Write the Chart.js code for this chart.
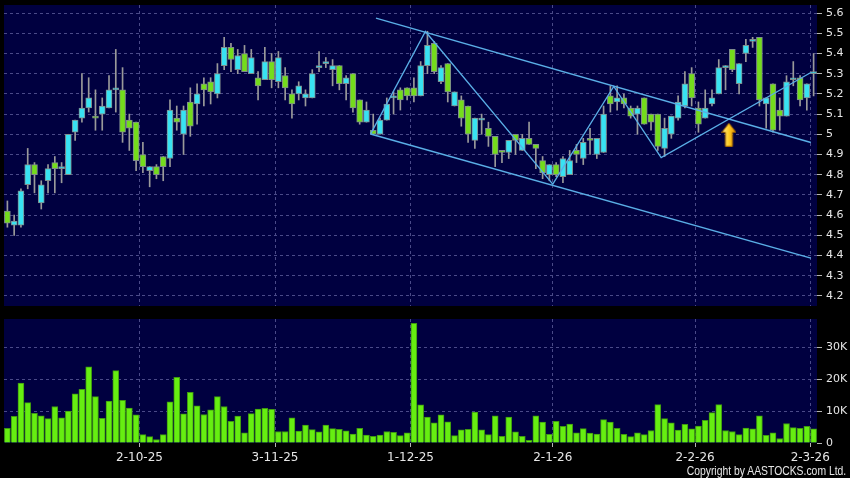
<!DOCTYPE html>
<html>
<head>
<meta charset="utf-8">
<script src="https://cdn.jsdelivr.net/npm/chart.js@4.4.1/dist/chart.umd.min.js"></script>
<style>
  html, body { margin: 0; padding: 0; background: #000; }
  body { width: 850px; height: 478px; position: relative; overflow: hidden; }
  #priceChart { position: absolute; left: 0; top: 0; }
  #volumeChart { position: absolute; left: 0; top: 312px; }
  #copyright {
    position: absolute; right: 4px; top: 464px; color: #e6e6e6;
    font: 12.5px "Liberation Sans", sans-serif; line-height: 14px;
    transform: scaleX(0.83); transform-origin: right center; white-space: nowrap;
  }
</style>
</head>
<body>
<canvas id="priceChart" width="850" height="312"></canvas>
<canvas id="volumeChart" width="850" height="166"></canvas>
<div id="copyright">Copyright by AASTOCKS.com Ltd.</div>
<script>
// daily candles, one per trading day (index 0 = first day shown)
const opens = [4.62, 4.55, 4.55, 4.75, 4.85, 4.66, 4.77, 4.86, 4.83, 4.80,
  5.01, 5.08, 5.13, 5.09, 5.10, 5.13, 5.22, 5.22, 5.07, 5.06,
  4.90, 4.82, 4.84, 4.89, 4.88, 5.08, 5.00, 5.16, 5.15, 5.25,
  5.26, 5.20, 5.34, 5.43, 5.32, 5.40, 5.30, 5.28, 5.27, 5.36,
  5.26, 5.29, 5.20, 5.20, 5.18, 5.18, 5.33, 5.35, 5.32, 5.34,
  5.25, 5.30, 5.17, 5.06, 5.02, 5.00, 5.07, 5.18, 5.22, 5.23,
  5.23, 5.19, 5.34, 5.45, 5.26, 5.35, 5.14, 5.17, 5.14, 4.97,
  5.07, 5.03, 4.99, 4.92, 4.91, 5.00, 4.92, 4.98, 4.95, 4.87,
  4.80, 4.85, 4.79, 4.80, 4.92, 4.88, 4.98, 4.90, 4.91, 5.19,
  5.16, 5.18, 5.13, 5.10, 5.18, 5.10, 5.10, 4.93, 5.00, 5.08,
  5.14, 5.30, 5.13, 5.08, 5.15, 5.20, 5.33, 5.42, 5.25, 5.40,
  5.46, 5.48, 5.15, 5.25, 5.12, 5.09, 5.27, 5.28, 5.18, 5.30];
const highs = [4.67, 4.60, 4.73, 4.93, 4.86, 4.77, 4.85, 4.89, 4.86, 5.00,
  5.07, 5.30, 5.28, 5.22, 5.18, 5.29, 5.42, 5.33, 5.10, 5.06,
  4.96, 4.84, 4.85, 4.89, 5.17, 5.14, 5.14, 5.23, 5.25, 5.28,
  5.28, 5.35, 5.48, 5.45, 5.42, 5.44, 5.42, 5.31, 5.43, 5.40,
  5.41, 5.33, 5.22, 5.26, 5.22, 5.32, 5.41, 5.38, 5.37, 5.34,
  5.29, 5.30, 5.17, 5.16, 5.10, 5.08, 5.18, 5.21, 5.23, 5.23,
  5.28, 5.36, 5.51, 5.46, 5.34, 5.35, 5.21, 5.19, 5.14, 5.08,
  5.10, 5.06, 4.99, 4.92, 4.97, 5.00, 5.00, 5.06, 4.95, 4.89,
  4.85, 4.86, 4.89, 4.92, 4.95, 4.98, 5.03, 4.98, 5.14, 5.24,
  5.24, 5.20, 5.14, 5.14, 5.18, 5.10, 5.10, 5.08, 5.09, 5.19,
  5.31, 5.33, 5.16, 5.22, 5.22, 5.37, 5.34, 5.42, 5.35, 5.47,
  5.48, 5.48, 5.18, 5.25, 5.18, 5.29, 5.36, 5.29, 5.25, 5.40];
const lows = [4.54, 4.50, 4.54, 4.73, 4.71, 4.63, 4.71, 4.71, 4.76, 4.80,
  4.97, 5.06, 5.11, 5.02, 5.02, 5.13, 5.11, 4.96, 4.92, 4.82,
  4.81, 4.74, 4.78, 4.77, 4.84, 5.02, 4.90, 4.99, 5.05, 5.14,
  5.15, 5.18, 5.32, 5.31, 5.30, 5.31, 5.30, 5.17, 5.27, 5.23,
  5.23, 5.17, 5.08, 5.17, 5.14, 5.18, 5.31, 5.33, 5.24, 5.22,
  5.17, 5.11, 5.05, 5.06, 5.00, 5.00, 5.07, 5.10, 5.12, 5.17,
  5.16, 5.19, 5.30, 5.30, 5.25, 5.16, 5.14, 5.04, 4.96, 4.93,
  5.00, 4.94, 4.84, 4.86, 4.88, 4.90, 4.92, 4.95, 4.83, 4.78,
  4.77, 4.79, 4.76, 4.80, 4.86, 4.85, 4.90, 4.88, 4.91, 5.11,
  5.12, 5.13, 5.08, 5.00, 5.05, 5.02, 4.92, 4.89, 4.98, 5.07,
  5.13, 5.14, 5.01, 5.08, 5.14, 5.20, 5.22, 5.31, 5.20, 5.36,
  5.43, 5.14, 5.03, 5.01, 5.02, 5.09, 5.24, 5.14, 5.12, 5.19];
const closes = [4.56, 4.57, 4.72, 4.85, 4.80, 4.75, 4.83, 4.83, 4.84, 5.00,
  5.07, 5.13, 5.18, 5.08, 5.14, 5.22, 5.23, 5.01, 5.03, 4.87,
  4.84, 4.84, 4.80, 4.84, 5.12, 5.06, 5.12, 5.04, 5.20, 5.22,
  5.21, 5.30, 5.43, 5.37, 5.39, 5.31, 5.38, 5.24, 5.36, 5.27,
  5.38, 5.23, 5.15, 5.24, 5.20, 5.30, 5.34, 5.36, 5.34, 5.25,
  5.28, 5.13, 5.06, 5.12, 5.00, 5.07, 5.15, 5.19, 5.17, 5.19,
  5.19, 5.34, 5.44, 5.31, 5.33, 5.21, 5.21, 5.08, 5.00, 5.08,
  5.07, 4.99, 4.90, 4.91, 4.97, 4.97, 4.98, 4.95, 4.93, 4.81,
  4.85, 4.80, 4.88, 4.87, 4.90, 4.96, 4.97, 4.98, 5.10, 5.15,
  5.18, 5.15, 5.09, 5.13, 5.05, 5.06, 4.94, 5.03, 5.09, 5.16,
  5.25, 5.18, 5.05, 5.13, 5.18, 5.33, 5.33, 5.32, 5.35, 5.44,
  5.47, 5.17, 5.18, 5.02, 5.09, 5.26, 5.27, 5.17, 5.25, 5.30];
// volume in thousands of shares
const volumes = [4.6, 8.3, 18.7, 12.6, 9.3, 8.5, 7.6, 11.4, 7.9, 10.0,
  15.4, 16.8, 23.8, 14.5, 7.7, 13.1, 22.6, 13.3, 10.9, 8.8,
  2.6, 2.0, 1.1, 2.6, 12.9, 20.5, 9.1, 15.8, 11.6, 8.9,
  10.4, 14.5, 11.4, 6.8, 8.4, 3.2, 9.2, 10.6, 10.8, 10.5,
  3.6, 3.6, 7.9, 3.7, 5.6, 4.2, 3.5, 5.6, 4.5, 4.3,
  3.8, 2.8, 4.6, 2.5, 2.1, 2.5, 3.6, 3.3, 2.3, 3.2,
  37.4, 11.9, 8.1, 6.3, 8.8, 6.6, 2.3, 4.1, 4.3, 9.7,
  4.1, 2.6, 8.5, 2.1, 8.1, 3.5, 2.1, 0.8, 8.5, 6.5,
  2.7, 6.8, 5.2, 5.9, 3.2, 4.5, 3.1, 2.8, 7.3, 6.5,
  4.6, 2.7, 2.0, 3.2, 2.6, 3.9, 12.0, 7.6, 6.3, 4.0,
  5.8, 4.4, 5.3, 7.1, 9.5, 12.0, 3.9, 3.6, 2.6, 4.7,
  4.4, 8.5, 2.4, 3.2, 1.4, 6.1, 4.8, 4.6, 5.2, 4.4];

// first trading day of each month and its label
const tickDays = [20, 40, 60, 81, 102, 119];
const tickLabels = ['2-10-25', '3-11-25', '1-12-25', '2-1-26', '2-2-26', '2-3-26'];
const priceTicks = [4.2, 4.3, 4.4, 4.5, 4.6, 4.7, 4.8, 4.9, 5, 5.1, 5.2, 5.3, 5.4, 5.5, 5.6];
const volumeTicks = [0, 10, 20, 30];

// hand-drawn trend lines, as [day index, price]
const channelTop = [[54.4, 5.575], [118.6, 4.959]];
const channelBottom = [[53.6, 5.001], [118.6, 4.387]];
const zigzag = [[53.6, 5.001], [61.7, 5.509], [80.5, 4.753], [89.5, 5.237], [96.5, 4.885], [118.6, 5.306]];
const arrowAt = [106.5, 4.998];

const NAVY = '#000040';
const GRID = '#4a4a88';
const TEXT = '#e6e6e6';
const TICK = '#b4b4b4';
const UP = '#38e2f2';
const DOWN = '#74dc1c';
const EDGE = '#7f8c8c';
const WICK = '#9a9a9a';
const TREND = '#5aaee6';

const days = closes.map((_, i) => i);

const plotBackground = {
  id: 'plotBackground',
  beforeDraw(chart) {
    const { ctx, chartArea: a } = chart;
    ctx.save();
    ctx.fillStyle = NAVY;
    ctx.fillRect(a.left, a.top, a.right - a.left, a.bottom - a.top);
    ctx.restore();
  }
};

function makeArrow() {
  const c = document.createElement('canvas');
  c.width = 15;
  c.height = 24;
  const g = c.getContext('2d');
  const grad = g.createLinearGradient(0, 0, 15, 0);
  grad.addColorStop(0, '#fff09a');
  grad.addColorStop(0.5, '#ffcc22');
  grad.addColorStop(1, '#e08a00');
  g.beginPath();
  g.moveTo(7.5, 0.5);
  g.lineTo(14.5, 9.5);
  g.lineTo(11, 9.5);
  g.lineTo(11, 23.5);
  g.lineTo(4, 23.5);
  g.lineTo(4, 9.5);
  g.lineTo(0.5, 9.5);
  g.closePath();
  g.fillStyle = grad;
  g.fill();
  g.strokeStyle = '#a86a00';
  g.lineWidth = 1;
  g.stroke();
  return c;
}

const toPoints = pts => pts.map(([x, y]) => ({ x, y }));

// right-hand axis: fixed width, no extra padding for the end labels
function fitRightAxis(scale) {
  scale.width = 33;
  scale.paddingTop = 0;
  scale.paddingBottom = 0;
}

function dayAxis(showLabels) {
  return {
    type: 'linear',
    min: -0.5,
    max: 119.5,
    offset: false,
    afterBuildTicks: scale => { scale.ticks = tickDays.map(d => ({ value: d - 0.5 })); },
    afterFit: scale => { scale.height = showLabels ? 35 : 0; },
    ticks: {
      display: showLabels,
      color: TEXT,
      font: { family: 'DejaVu Sans', size: 12 },
      padding: 4,
      maxRotation: 0,
      autoSkip: false,
      callback: (value, index) => tickLabels[index]
    },
    grid: { color: GRID, offset: false, drawTicks: showLabels, tickLength: 4, tickColor: TICK, tickBorderDash: [] },
    border: { display: false, dash: [3, 3] }
  };
}

const priceChart = new Chart(document.getElementById('priceChart'), {
  type: 'bar',
  data: {
    datasets: [
      {
        label: 'Body',
        data: days.map(i => ({ x: i, y: [opens[i], closes[i]] })),
        backgroundColor: days.map(i => closes[i] >= opens[i] ? UP : DOWN),
        borderColor: EDGE,
        borderWidth: 1,
        borderSkipped: false,
        barThickness: 6,
        minBarLength: 2,
        grouped: false,
        order: 1
      },
      {
        label: 'Range',
        data: days.map(i => ({ x: i, y: [lows[i], highs[i]] })),
        backgroundColor: WICK,
        barThickness: 1,
        grouped: false,
        order: 2
      },
      {
        type: 'line',
        data: toPoints(channelTop),
        borderColor: TREND, borderWidth: 1.5, pointRadius: 0, order: 0
      },
      {
        type: 'line',
        data: toPoints(channelBottom),
        borderColor: TREND, borderWidth: 1.5, pointRadius: 0, order: 0
      },
      {
        type: 'line',
        data: toPoints(zigzag),
        borderColor: TREND, borderWidth: 1.3, pointRadius: 0, order: 0
      },
      {
        type: 'line',
        data: toPoints([arrowAt]),
        showLine: false,
        pointStyle: makeArrow(),
        pointRadius: 8,
        order: 0
      }
    ]
  },
  options: {
    responsive: false,
    animation: false,
    layout: { autoPadding: false, padding: { top: 5, left: 4, right: 0, bottom: 6 } },
    plugins: { legend: { display: false }, tooltip: { enabled: false } },
    scales: {
      x: dayAxis(false),
      y: {
        position: 'right',
        min: 4.15,
        max: 5.64,
        afterBuildTicks: scale => { scale.ticks = priceTicks.map(v => ({ value: v })); },
        afterFit: fitRightAxis,
        ticks: { color: TEXT, font: { family: 'DejaVu Sans', size: 11 }, padding: 4, callback: v => String(v) },
        grid: { color: GRID, tickLength: 5, tickColor: TICK, tickBorderDash: [] },
        border: { display: false, dash: [3, 3] }
      }
    }
  },
  plugins: [plotBackground]
});

const volumeChart = new Chart(document.getElementById('volumeChart'), {
  type: 'bar',
  data: {
    datasets: [{
      label: 'Volume',
      data: days.map(i => ({ x: i, y: volumes[i] })),
      backgroundColor: '#66ee11',
      borderColor: '#3f9a10',
      borderWidth: 1,
      barThickness: 6,
      grouped: false
    }]
  },
  options: {
    responsive: false,
    animation: false,
    layout: { autoPadding: false, padding: { top: 7, left: 4, right: 0, bottom: 0 } },
    plugins: { legend: { display: false }, tooltip: { enabled: false } },
    scales: {
      x: dayAxis(true),
      y: {
        position: 'right',
        min: 0,
        max: 38.75,
        afterBuildTicks: scale => { scale.ticks = volumeTicks.map(v => ({ value: v })); },
        afterFit: fitRightAxis,
        ticks: {
          color: TEXT,
          font: { family: 'DejaVu Sans', size: 11 },
          padding: 4,
          callback: v => v === 0 ? '0' : v + 'K'
        },
        grid: {
          color: ctx => ctx.tick && ctx.tick.value === 0 ? 'rgba(0,0,0,0)' : GRID,
          tickLength: 5,
          tickColor: TICK,
          tickBorderDash: []
        },
        border: { display: false, dash: [3, 3] }
      }
    }
  },
  plugins: [plotBackground]
});
</script>
</body>
</html>
